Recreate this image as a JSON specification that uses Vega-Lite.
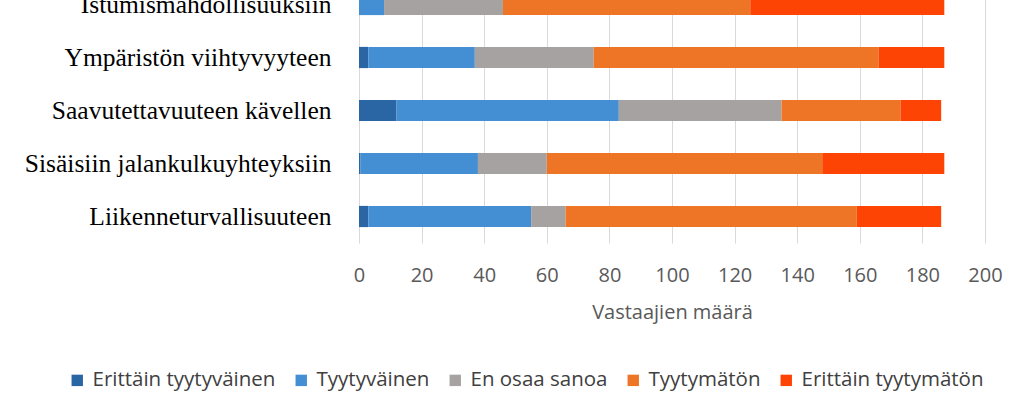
{
  "$schema": "https://vega.github.io/schema/vega-lite/v6.json",
  "width": 626,
  "height": 265,
  "autosize": {"type": "none"},
  "padding": {"left": 359, "top": -22, "right": 39, "bottom": 155},
  "background": "white",
  "data": {
    "values": [
      {"kohde": "Istumismahdollisuuksiin", "vastaus": "Erittäin tyytyväinen", "n": 0, "j": 1},
      {"kohde": "Istumismahdollisuuksiin", "vastaus": "Tyytyväinen", "n": 8, "j": 2},
      {"kohde": "Istumismahdollisuuksiin", "vastaus": "En osaa sanoa", "n": 38, "j": 3},
      {"kohde": "Istumismahdollisuuksiin", "vastaus": "Tyytymätön", "n": 79, "j": 4},
      {"kohde": "Istumismahdollisuuksiin", "vastaus": "Erittäin tyytymätön", "n": 62, "j": 5},
      {"kohde": "Ympäristön viihtyvyyteen", "vastaus": "Erittäin tyytyväinen", "n": 3, "j": 1},
      {"kohde": "Ympäristön viihtyvyyteen", "vastaus": "Tyytyväinen", "n": 34, "j": 2},
      {"kohde": "Ympäristön viihtyvyyteen", "vastaus": "En osaa sanoa", "n": 38, "j": 3},
      {"kohde": "Ympäristön viihtyvyyteen", "vastaus": "Tyytymätön", "n": 91, "j": 4},
      {"kohde": "Ympäristön viihtyvyyteen", "vastaus": "Erittäin tyytymätön", "n": 21, "j": 5},
      {"kohde": "Saavutettavuuteen kävellen", "vastaus": "Erittäin tyytyväinen", "n": 12, "j": 1},
      {"kohde": "Saavutettavuuteen kävellen", "vastaus": "Tyytyväinen", "n": 71, "j": 2},
      {"kohde": "Saavutettavuuteen kävellen", "vastaus": "En osaa sanoa", "n": 52, "j": 3},
      {"kohde": "Saavutettavuuteen kävellen", "vastaus": "Tyytymätön", "n": 38, "j": 4},
      {"kohde": "Saavutettavuuteen kävellen", "vastaus": "Erittäin tyytymätön", "n": 13, "j": 5},
      {"kohde": "Sisäisiin jalankulkuyhteyksiin", "vastaus": "Erittäin tyytyväinen", "n": 0.5, "j": 1},
      {"kohde": "Sisäisiin jalankulkuyhteyksiin", "vastaus": "Tyytyväinen", "n": 37.5, "j": 2},
      {"kohde": "Sisäisiin jalankulkuyhteyksiin", "vastaus": "En osaa sanoa", "n": 22, "j": 3},
      {"kohde": "Sisäisiin jalankulkuyhteyksiin", "vastaus": "Tyytymätön", "n": 88, "j": 4},
      {"kohde": "Sisäisiin jalankulkuyhteyksiin", "vastaus": "Erittäin tyytymätön", "n": 39, "j": 5},
      {"kohde": "Liikenneturvallisuuteen", "vastaus": "Erittäin tyytyväinen", "n": 3, "j": 1},
      {"kohde": "Liikenneturvallisuuteen", "vastaus": "Tyytyväinen", "n": 52, "j": 2},
      {"kohde": "Liikenneturvallisuuteen", "vastaus": "En osaa sanoa", "n": 11, "j": 3},
      {"kohde": "Liikenneturvallisuuteen", "vastaus": "Tyytymätön", "n": 93, "j": 4},
      {"kohde": "Liikenneturvallisuuteen", "vastaus": "Erittäin tyytymätön", "n": 27, "j": 5}
    ]
  },
  "mark": {"type": "bar"},
  "encoding": {
    "y": {
      "field": "kohde",
      "type": "nominal",
      "sort": ["Istumismahdollisuuksiin", "Ympäristön viihtyvyyteen", "Saavutettavuuteen kävellen", "Sisäisiin jalankulkuyhteyksiin", "Liikenneturvallisuuteen"],
      "scale": {"paddingInner": 0.6, "paddingOuter": 0.3},
      "axis": {
        "title": null,
        "domain": false,
        "ticks": false,
        "labelPadding": 28,
        "labelFont": "Liberation Serif",
        "labelFontSize": 25.5,
        "labelColor": "#000000",
        "labelLimit": 400
      }
    },
    "x": {
      "field": "n",
      "type": "quantitative",
      "stack": "zero",
      "scale": {"domain": [0, 200]},
      "axis": {
        "title": "Vastaajien määrä",
        "values": [0, 20, 40, 60, 80, 100, 120, 140, 160, 180, 200],
        "domain": false,
        "ticks": false,
        "grid": true,
        "gridColor": "#d9d9d9",
        "gridWidth": 1,
        "labelFlush": false,
        "labelPadding": 22,
        "labelFont": "Open Sans",
        "labelFontSize": 20,
        "labelColor": "#595959",
        "titleFont": "Open Sans",
        "titleFontSize": 20,
        "titleFontWeight": "normal",
        "titleColor": "#595959",
        "titlePadding": 17
      }
    },
    "color": {
      "field": "vastaus",
      "type": "nominal",
      "scale": {
        "domain": ["Erittäin tyytyväinen", "Tyytyväinen", "En osaa sanoa", "Tyytymätön", "Erittäin tyytymätön"],
        "range": ["#2b66a4", "#448ed3", "#a6a2a2", "#ed7525", "#fd4404"]
      },
      "legend": {
        "title": null,
        "orient": "none",
        "direction": "horizontal",
        "legendX": -292,
        "legendY": 392,
        "symbolType": "square",
        "symbolSize": 130,
        "symbolStrokeWidth": 0,
        "labelFont": "Open Sans",
        "labelFontSize": 20.5,
        "labelColor": "#404040",
        "labelOffset": 5,
        "columnPadding": 15,
        "labelLimit": 300
      }
    },
    "order": {"field": "j", "type": "quantitative"}
  },
  "config": {"view": {"stroke": null}}
}
